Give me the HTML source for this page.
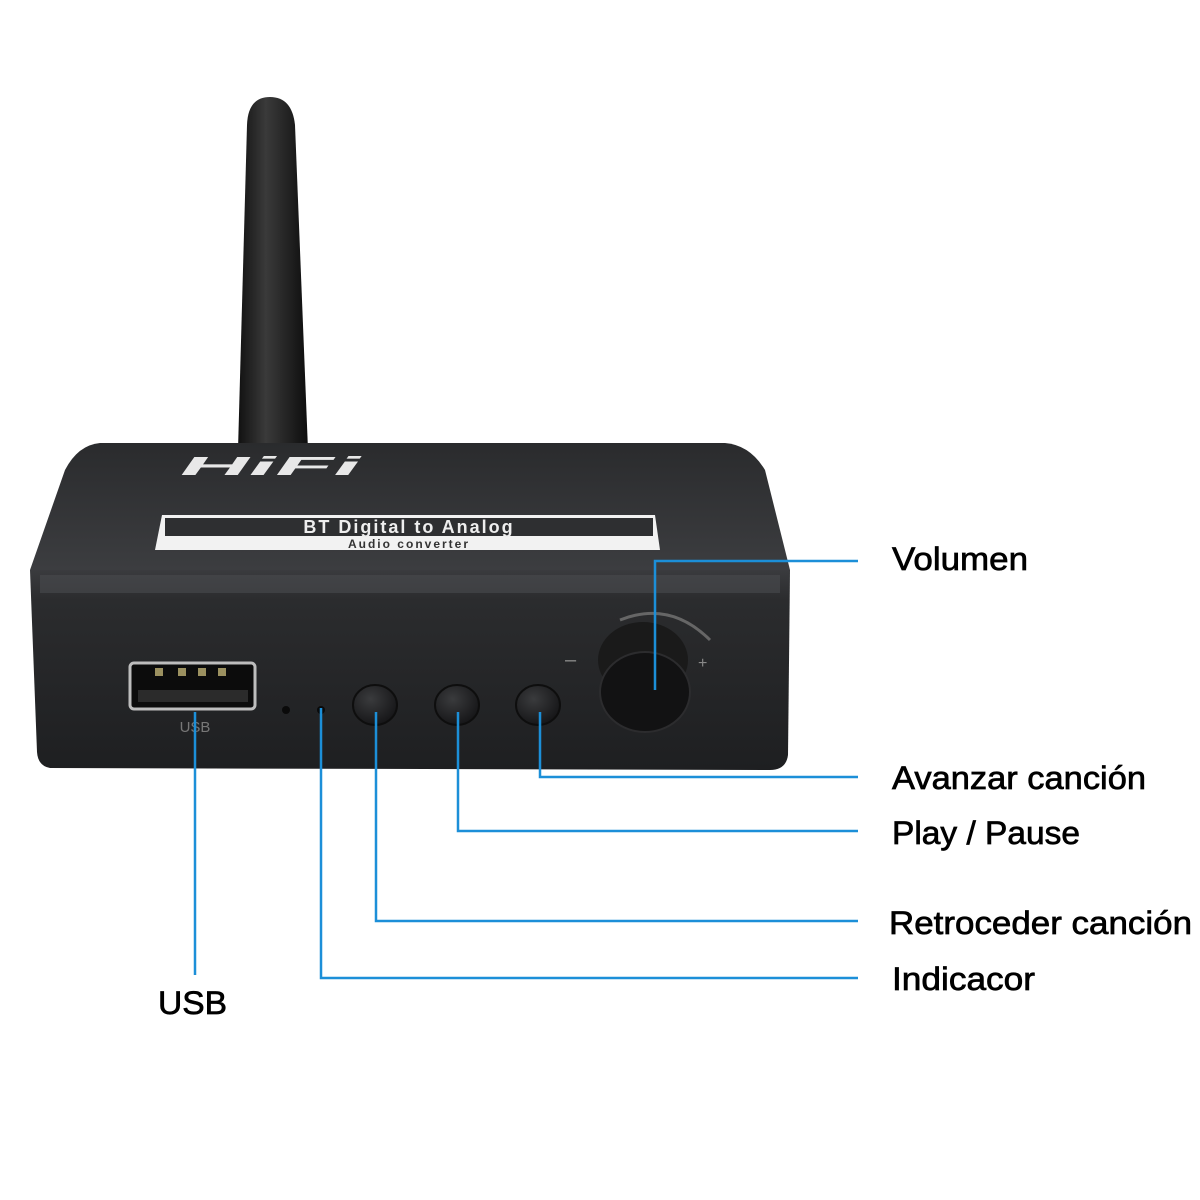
<!DOCTYPE html>
<html><head><style>
html,body{margin:0;padding:0;background:#fff;}
svg{display:block}
text{font-family:"Liberation Sans",sans-serif;}
</style></head><body>
<svg width="1200" height="1200" viewBox="0 0 1200 1200">
<defs>
<linearGradient id="ant" x1="0" x2="1">
<stop offset="0" stop-color="#111"/><stop offset="0.4" stop-color="#3a3a3a"/><stop offset="1" stop-color="#0d0d0d"/>
</linearGradient>
<linearGradient id="top" x1="0" y1="0" x2="0" y2="1">
<stop offset="0" stop-color="#2a2b2d"/><stop offset="1" stop-color="#3c3d40"/>
</linearGradient>
<linearGradient id="front" x1="0" y1="0" x2="0" y2="1">
<stop offset="0" stop-color="#3a3b3e"/><stop offset="0.15" stop-color="#2b2c2e"/><stop offset="1" stop-color="#1e1f21"/>
</linearGradient>
<radialGradient id="btn" cx="0.4" cy="0.35" r="0.7">
<stop offset="0" stop-color="#3a3b3d"/><stop offset="1" stop-color="#141416"/>
</radialGradient>
</defs>
<path d="M247 125 Q248 97 270 97 Q292 97 295 125 L308 450 L238 450 Z" fill="url(#ant)"/>
<path d="M100 443 L725 443 Q750 445 765 470 L790 570 L30 570 L65 470 Q78 445 100 443 Z" fill="url(#top)"/>
<path d="M30 570 L790 570 L788 755 Q786 770 770 770 L50 768 Q38 766 37 752 Z" fill="url(#front)"/>
<rect x="40" y="575" width="740" height="18" fill="#4a4b4e" opacity="0.6"/>
<text x="180" y="475" font-size="26" font-weight="bold" fill="#e8e8e8" font-style="italic" textLength="180" lengthAdjust="spacingAndGlyphs">HiFi</text>
<path d="M162 515 L655 515 L660 550 L155 550 Z" fill="#f2f2f2"/>
<rect x="165" y="518" width="488" height="18" fill="#2e2f31"/>
<text x="409" y="533" font-size="18" font-weight="bold" fill="#eee" text-anchor="middle" letter-spacing="2">BT Digital to Analog</text>
<text x="409" y="548" font-size="12" font-weight="bold" fill="#333" text-anchor="middle" letter-spacing="2">Audio converter</text>
<rect x="130" y="663" width="125" height="46" rx="4" fill="#0c0c0c" stroke="#bdbdbd" stroke-width="3"/>
<rect x="138" y="690" width="110" height="12" fill="#2b2b2b"/>
<rect x="155" y="668" width="8" height="8" fill="#9c9160"/><rect x="178" y="668" width="8" height="8" fill="#9c9160"/><rect x="198" y="668" width="8" height="8" fill="#9c9160"/><rect x="218" y="668" width="8" height="8" fill="#9c9160"/>
<text x="195" y="732" font-size="15" fill="#777" text-anchor="middle">USB</text>
<circle cx="286" cy="710" r="4" fill="#0a0a0a"/><circle cx="321" cy="710" r="4" fill="#0a0a0a"/>
<ellipse cx="375" cy="705" rx="22" ry="20" fill="url(#btn)" stroke="#0e0e0e" stroke-width="2"/>
<ellipse cx="457" cy="705" rx="22" ry="20" fill="url(#btn)" stroke="#0e0e0e" stroke-width="2"/>
<ellipse cx="538" cy="705" rx="22" ry="20" fill="url(#btn)" stroke="#0e0e0e" stroke-width="2"/>
<path d="M620 620 Q670 600 710 640" fill="none" stroke="#666" stroke-width="3"/>
<text x="565" y="666" font-size="20" fill="#888">–</text><text x="698" y="668" font-size="16" fill="#888">+</text>
<ellipse cx="643" cy="660" rx="45" ry="38" fill="#1a1a1a"/>
<ellipse cx="645" cy="692" rx="45" ry="40" fill="#121213" stroke="#2c2c2e" stroke-width="2"/>
<g fill="none" stroke="#1c8fd8" stroke-width="2.5">
<path d="M655 690 V561 H858"/>
<path d="M540 712 V777 H858"/>
<path d="M458 712 V831 H858"/>
<path d="M376 712 V921 H858"/>
<path d="M321 708 V978 H858"/>
<path d="M195 712 V975"/>
</g>
<g font-size="32" fill="#000" stroke="#000" stroke-width="0.7" lengthAdjust="spacingAndGlyphs">
<text x="892" y="570" textLength="136" lengthAdjust="spacingAndGlyphs">Volumen</text>
<text x="892" y="789" textLength="254" lengthAdjust="spacingAndGlyphs">Avanzar canción</text>
<text x="892" y="844" textLength="188" lengthAdjust="spacingAndGlyphs">Play / Pause</text>
<text x="889" y="934" textLength="303" lengthAdjust="spacingAndGlyphs">Retroceder canción</text>
<text x="892" y="990" textLength="143" lengthAdjust="spacingAndGlyphs">Indicacor</text>
<text x="158" y="1014" textLength="69" lengthAdjust="spacingAndGlyphs">USB</text>
</g>
</svg>
</body></html>
